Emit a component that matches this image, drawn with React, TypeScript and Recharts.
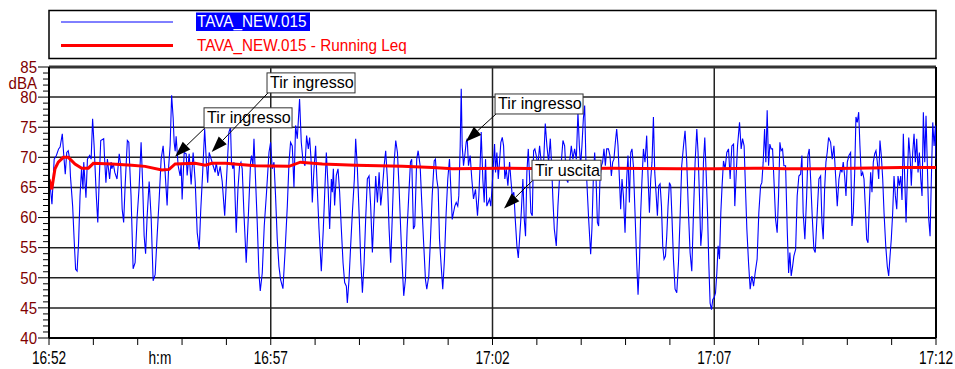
import React from 'react';
import { LineChart, Line, XAxis, YAxis, ReferenceLine } from 'recharts';

// ---------- data ----------
const SERIES_NAMES = ['TAVA_NEW.015', 'TAVA_NEW.015 - Running Leq'];
const X_TICK_LABELS = ['16:52', '16:57', '17:02', '17:07', '17:12'];
const X_LABEL_TIMES = [0, 300, 600, 900, 1200]; // seconds after 16:52
const X_MINUTE_TICKS = [0, 60, 120, 180, 240, 300, 360, 420, 480, 540, 600, 660, 720, 780, 840, 900, 960, 1020, 1080, 1140, 1200];
const X_UNIT_LABEL = 'h:m';
const X_UNIT_TIME = 150;
const Y_UNIT_LABEL = 'dBA';
const Y_MAJOR = [40, 45, 50, 55, 60, 65, 70, 75, 80, 85];
const GRID_Y = [45, 50, 55, 60, 65, 70, 75, 80];
const GRID_X = [300, 600, 900];

// [seconds, dBA]
const laSamples: [number, number][] = [
  [0,66.4],[1,66],[4,62.2],[7,69.7],[10,70.3],[13,71.4],[15,71.7],[18,73.9],[20,70.3],[22,67.2],[24,70.8],[26,71.1],[28,69.7],[29,66.9],[32,61.9],[34,56.4],[36,51.4],[38,51.1],[40,55.8],[42,63.6],[44,68.1],[46,64.7],[47,69.2],[50,63.3],[52,69.7],[55,70.3],[57,69.7],[59,76.4],[61,72],[64,63.6],[66,59.2],[68,66.4],[70,72.8],[74,73.1],[75,70.3],[77,65.8],[79,69.7],[80,68.6],[82,66.4],[84,69.2],[85,68.1],[87,68.9],[89,67.5],[92,66.4],[95,70.6],[97,68.6],[99,61.4],[101,59.2],[103,65.3],[106,72.8],[108,72.5],[109,69.2],[111,63.6],
  [113.8,51.5],[116.5,52.5],[119.2,60],[121.9,65],[124.6,72.5],[126.6,66],[128.7,57],[130.7,54],[132.7,60],[135.5,66],[138.2,60],[140.9,49.5],[143.6,50.5],[146.3,57],[149,63],[151.7,69.7],[154.4,71.9],[157.1,67.5],[159.8,62],[161.9,68.5],[163.9,72],[165.9,80.3],[168,76.5],[169.3,72.5],[170.7,71],[172,73.5],[174.7,68.6],[177.4,66.9],[178.8,69],[180.1,63],[182.9,70.8],[185.6,70.6],[186.9,67],[189.6,70.6],[192.3,65.5],[195,70.8],[197.8,66],[200.5,57.5],[203.2,54.7],[205.2,61],[207.9,67.5],[210.6,74.7],[212.7,69.7],[214.7,65.8],[216.7,70.8],[219.4,69.7],[222.1,68.6],[224.8,67.5],[226.2,69.2],[228.9,66.9],[231.6,68.5],[234.3,66],[237.7,60.3],[239.7,65.3],[243.4,74.2],[245.6,75],[246.9,69.2],[248.8,68.1],[250.2,69.2],[253.3,57.5],[255.6,64.7],[257.8,68.6],[259.7,69.2],[261.4,68.1],[263.7,60.8],[266.8,52.5],[269.5,59.7],[272.7,69.2],[274,70.3],[275.9,68.6],[277.3,73.1],[279.4,66.4],[281.7,59.2],[284,50.8],[285.8,47.8],[288.5,50.8],[291.2,58.6],[294.3,64.2],[297.6,70.8],[299.8,72.5],
  [302,68.1],[304.4,69.2],[306.5,63.6],[308.8,56.4],[311.1,51.9],[313.3,49.7],[316.5,48.2],[319.3,54.2],[322.4,61.9],[324.7,69.2],[326.8,72.5],[329.1,71.9],[331.4,65],[333.6,75.3],[335.9,73.1],[339,79.7],[341.3,72.5],[343.6,69.4],[346.3,68.6],[348.5,73.6],[350.8,71.4],[352.6,73.3],[354.5,69.7],[356.2,62.5],[358.5,68.1],[360.7,71.9],[363,64.7],[365.3,58.1],[368.4,51.1],[371.1,58.1],[373.4,65.3],[375.2,70.8],[377.5,65.3],[379.7,58.1],[382,66.4],[383.3,64.2],[384.7,68.1],[386.4,62],[388.7,67],[391,68.1],[393.2,64.2],[395.5,58.1],[397.8,52.5],[400,49.2],[402.3,48.6],[403.6,45.8],[405.9,49.7],[408.1,55.3],[410.4,60.8],[413.1,66.4],[414.9,73.1],[417.2,68.1],[419.5,60.8],[421.7,53.1],[424,47.5],[426.3,52.5],[428.4,59.7],[430.7,66.4],[433,66.9],[435.2,61.9],[437.5,54.2],[439.8,60.8],[442,66.9],[444.3,62.5],[446.6,67.5],[448.8,62],[451,64.7],[453.4,68.6],[455.5,71.1],[457.8,66.4],[460.1,58.1],[462.3,52.5],[464.6,60.8],[466.9,69.2],[469.1,72.8],[471.4,70.8],[473.7,64.7],[475.8,58],[477.7,52.5],[479.9,47],[482.2,49.7],[484.5,58.1],[486.7,63.6],[489,69.2],[490.7,69.7],[493,58.1],[494.8,58.6],[497.5,69.7],[499.4,71.1],[502.1,68.6],[503.9,63.6],[506.6,56.4],[509.3,49.7],[511.1,48.1],[513.8,50.3],[516.1,56.4],[518.4,63.6],[521.1,69.4],[522.8,69.7],[524.6,66.4],[526.5,64.7],[528.3,56.4],[530.6,51.9],[532.7,48.1],[535,53.1],[537.3,60.8],[539.5,66.4],[541.8,69.7],[544.1,63.6],[545.5,59.7],[547.2,60.8],[549,61.9],[550.9,62.5],[553,61.9],[554.4,63.6],[556.3,71.9],[557.7,81.4],[559,71.9],[560.8,68.6],[562.5,70.3],[564.4,72.5],[565.8,73.1],[567.5,68.6],[569.8,70.3],[572,66.4],[574.3,63.1],[577,64.7],[579.7,60.3],[581.5,63.6],[583.4,69.2],[584.7,74.2],[586.9,66.4],[588.8,62.5],[590.6,69.7],[592.3,61.9],[594.2,62.5],[596,63.1],[597.7,61.9],[599.6,65.3],
  [601.4,69.2],[602.8,72.2],[604.1,67.5],[605.9,70.8],[607.8,66.4],[609.5,69.2],[611.3,72.5],[613.2,73.3],[615,71.9],[616.7,66.4],[618.6,68.1],[620.8,65.3],[623.1,69.2],[624.8,66.4],[626.7,63.6],[628.9,64.2],[630.8,59.7],[633,55.3],[634.9,53.3],[636.6,56.4],[638.9,60.8],[641.1,66.4],[643,59.7],[644.7,56.9],[646.5,67.5],[648.4,71.4],[650.2,66.4],[651.9,60.8],[653.8,60.3],[655.6,71.1],[657.3,71.4],[659.2,70.3],[661.4,68.6],[663.7,71.9],[665.5,69.7],[668.2,66.4],[671.4,75.6],[673.6,71.9],[675.9,69.2],[678.2,73.1],[680,68.6],[681.7,63.1],[683.6,58.1],[686.3,55.3],[688.5,61.9],[690.8,66.9],[693.1,69.2],[695.3,72.8],[697.6,71.9],[699.9,66.4],[702,65.8],[704.3,69.2],[706.6,71.9],[708.8,69.7],[711.1,71.4],[713.4,69.7],[715.6,77.5],[717.5,71.9],[719.2,68.6],[721,71.9],[722.9,76.4],[724.7,78.6],[726.4,69.2],[728.3,64.2],[730.1,59.7],[732.8,53.9],[734.5,58.1],[736.4,66.4],[738.2,70.8],[740,66.9],[741.9,59.2],[743.6,58.6],[745.4,66.4],[747.3,68.6],[749,69.2],[750.8,71.4],[752.7,68.6],[754.5,71.4],[756.8,71.4],[758.9,70.3],[760.8,66.9],[762.6,69.2],[764.3,69.7],[766.2,72.5],[768,74.7],[769.8,71.9],[771.7,66.4],[773.4,61.4],[775.2,66.4],[777.1,63.6],[779.3,57.5],[781.5,66.4],[783.3,70.3],[785.2,62.5],[787,70.8],[788.7,71.4],[790.6,68.6],[792.8,60.8],[795.1,52.5],[796.9,47.2],[798.8,52.5],[800.5,60.8],[802.3,66.4],[804.2,71.4],[806.3,69.2],[808.6,73.6],[810.4,66.9],[812.3,60.8],[814.1,66.4],[815.8,69.2],[817.7,76.7],[819.5,67.5],[821.2,64.2],[823.1,60.3],[824.9,65.3],[826.7,65.6],[828.6,61.9],[830.3,55.3],[832.1,53.1],[834,53.6],[835.7,56.9],[837.5,61.9],[839.4,65.8],[841.1,65.3],[842.9,59.7],[844.8,53.1],[847,48.1],[849.3,47.5],[851.6,52.5],[853.7,59.7],[856,68.6],[858.4,71.9],[860.5,74.4],[862.8,69.2],[865.1,60.8],[867.3,54.2],[869.6,51.1],[871.9,60.8],[874.1,69.2],[876.4,74.7],[878.1,70.8],[880,63.6],[881.8,55.3],[883.5,58.1],[885.4,69.2],[887.2,73.3],[889,67.5],[890.9,60.8],[892.6,52.5],[894.4,45.8],[896.3,44.7],[898,46.4],[899.8,46.7],
  [901.7,47.5],[903.5,50.8],[905.2,55.3],[907.1,53.1],[908.9,60.8],[910.6,65.3],[912.5,69.4],[914.7,68.1],[917,70.8],[919.3,71.4],[921.5,66.4],[923.8,71.9],[926.1,72.2],[927.8,61.9],[929.6,66.9],[931.5,71.9],[934.2,75.8],[936.4,71.4],[938.3,73.1],[940.4,71.9],[942.3,64.7],[944.1,58.1],[946.4,52.5],[948.6,48.1],[950.9,50.3],[953.2,48.6],[955.3,50.8],[958,53.1],[960.3,60.8],[962.7,65.3],[964.4,65.8],[966.2,69.2],[968.1,74.7],[969.8,69.2],[971.6,77.8],[973.5,68.6],[975.2,72.2],[977,71.4],[978.9,71.4],[980.7,66.4],[983,59.7],[985.1,57.5],[987,63.6],[988.8,72.5],[990.5,71.1],[992.4,71.4],[994.2,68.6],[996.5,68.6],[998.7,58.1],[1000.6,50.8],[1002.3,54.2],[1004.1,50.3],[1006,51.9],[1007.7,53.6],[1010.1,54.7],[1012.2,63.6],[1014.5,66.9],[1016.8,67.2],[1018.6,70.3],[1020.3,60.8],[1022.6,56.4],[1025,63.6],[1026.7,70.3],[1028.5,71.4],[1030.4,66.4],[1032.5,60.3],[1034.8,54.7],[1036.6,54.2],[1039.3,60.8],[1041.6,66.4],[1043.9,66.9],[1045.7,59.2],[1047.4,56.4],[1049.3,64.7],[1051.1,69.2],[1052.8,70.8],[1054.7,73.3],[1057.4,72.5],[1059.6,69.7],[1061.9,71.9],[1064.2,66.9],[1066.4,61.9],[1068.7,66.4],[1071,68.1],[1072.8,67.5],[1074.5,69.2],[1076.4,66.9],[1078.2,63.6],[1080,69.2],[1082.2,70.3],[1084.5,70.8],[1086.3,58.6],[1088.1,60.8],[1090,67.5],[1091.7,76.7],[1093.5,75.8],[1095.4,77.5],[1097.1,71.9],[1098.9,66.9],[1100.8,67.5],[1102.6,66.4],[1104.3,61.9],[1106.2,56.4],[1108,55.8],[1109.7,61.9],[1111.6,67.5],[1113.4,64.2],[1115.2,69.2],[1117.1,70.6],[1118.8,71.1],[1120.6,69.2],[1122.5,66.4],[1124.2,72.8],[1126,70.3],[1127.9,66.4],[1129.7,60.8],[1132,55.3],[1134.1,51.9],[1136,50.3],[1137.8,53.6],[1139.5,56.4],[1141.4,60.8],[1143.2,66.9],[1145,63.6],[1146.9,61.4],[1148.6,66.9],[1150.4,65.3],[1152.3,66.9],[1154,62.9],[1155.8,73.9],[1157.7,66.4],[1159.5,59.2],[1161.2,66.4],[1163.1,73.3],[1164.9,70.3],[1166.6,65.3],[1168.5,70.8],[1170.3,73.9],[1172.1,69.2],[1173.9,73.1],[1175.7,67.5],[1177.5,70.8],[1179.4,66.4],[1181.1,63.6],[1182.9,77.5],[1184.8,69.2],[1186.5,76.9],[1188.3,68.6],[1190.2,59.7],[1192,56.9],[1193.7,66.4],[1195.6,75.8],[1197.4,71.9],[1199.2,75.3],[1200,69.7],
];

const leqSamples: [number, number][] = [
  [0,66.4],[3.7,64.7],[8.1,68.1],[12.6,69.2],[19.4,70],[26.1,70],[35.2,68.9],[44.3,68.2],[53.2,68.2],[60,69],[84.9,68.9],[112,68.7],[130,68.5],[152.6,67.9],[162.5,68],[170.7,68.9],[197.8,69],[211.3,68.7],[220.4,69],[238.4,69],[279,68.6],[324.7,68.5],[340,69.2],[369.8,68.9],[414.5,68.7],[478.1,68.5],[518.8,68.3],[545.9,68.1],[610.9,68.2],[678.6,68.1],[759.9,68.2],[849.3,68.1],[903.5,68.1],[953.5,68.2],[998.3,68.1],[1044.3,68.1],[1089,68.2],[1152.7,68.3],[1200,68.3],
];

// annotation: arrow tip (t, v) and label box corner (t, v)
const annotations = [
  { label: 'Tir ingresso', tipT: 170.5, tipV: 70.1, boxT: 211.1, boxV: 74.9 },
  { label: 'Tir ingresso', tipT: 220.1, tipV: 70.9, boxT: 296.3, boxV: 80.7 },
  { label: 'Tir ingresso', tipT: 563.8, tipV: 72.6, boxT: 604.8, boxV: 77.2 },
  { label: 'Tir uscita', tipT: 615.6, tipV: 61.5, boxT: 654.8, boxV: 66.2 },
];

// ---------- styling ----------
const FONT = 'Liberation Sans, Arial, Helvetica, sans-serif';
const W = 955;
const H = 369;
const BOX_W: Record<string, number> = { 'Tir ingresso': 88, 'Tir uscita': 69 };

const laData = laSamples.map(([t, v]) => ({ t, v }));
const leqData = leqSamples.map(([t, v]) => ({ t, v }));
const xTicks = [...X_MINUTE_TICKS, X_UNIT_TIME].sort((a, b) => a - b);
const yTicks: number[] = [];
for (let v = 40; v <= 85; v += 1) yTicks.push(v);

const XTick = (props: any) => {
  const { x, y, payload } = props;
  const v = payload.value;
  const li = X_LABEL_TIMES.indexOf(v);
  const label = li >= 0 ? X_TICK_LABELS[li] : v === X_UNIT_TIME ? X_UNIT_LABEL : null;
  const isMinute = X_MINUTE_TICKS.indexOf(v) >= 0;
  return (
    <g>
      {isMinute && <line x1={x} x2={x} y1={y} y2={y + 7} stroke="#000" strokeWidth={1} />}
      {label && (
        <text transform={`translate(${x},${y + 25.5}) scale(0.72,1)`} textAnchor="middle" fontSize={19} fontFamily={FONT} fill="#000">
          {label}
        </text>
      )}
    </g>
  );
};

const YTick = (props: any) => {
  const { x, y, payload } = props;
  const v = payload.value;
  const major = Y_MAJOR.indexOf(v) >= 0;
  return (
    <g>
      <line x1={x - (major ? 11 : 6)} x2={x} y1={y} y2={y} stroke="#000" strokeWidth={1} />
      {major && (
        <text transform={`translate(${x - 12},${y + 5.8}) scale(0.94,1)`} textAnchor="end" fontSize={16} fontFamily={FONT} fill="#800000">
          {v}
        </text>
      )}
    </g>
  );
};

const renderYUnit = (props: any) => {
  const vb = props && props.viewBox && typeof props.viewBox.x === 'number' ? props.viewBox : { x: 0, y: 67, width: 49 };
  return (
    <text transform={`translate(${vb.x + vb.width - 12},${vb.y + 21.5}) scale(0.94,1)`} textAnchor="end" fontSize={16} fontFamily={FONT} fill="#800000">
      {Y_UNIT_LABEL}
    </text>
  );
};

const makeAnnotationShape = (label: string) => (props: any) => {
  const { x1, y1, x2, y2 } = props;
  if ([x1, y1, x2, y2].some((n) => typeof n !== 'number' || isNaN(n))) return <g />;
  const dx = x2 - x1;
  const dy = y2 - y1;
  const len = Math.sqrt(dx * dx + dy * dy) || 1;
  const ux = dx / len;
  const uy = dy / len;
  const L = 16;
  const Wd = 5.5;
  const bx = x2 - ux * L;
  const by = y2 - uy * L;
  const pts = `${x2},${y2} ${bx - uy * Wd},${by + ux * Wd} ${bx + uy * Wd},${by - ux * Wd}`;
  const bw = BOX_W[label] || 88;
  return (
    <g>
      <line x1={x1} y1={y1} x2={bx} y2={by} stroke="#000" strokeWidth={1} />
      <polygon points={pts} fill="#000" />
      <rect x={x1 - 1} y={y1 - 20} width={bw} height={20} fill="#fff" stroke="#333" strokeWidth={1} />
      <text transform={`translate(${x1 + 2},${y1 - 4.5}) scale(0.95,1)`} fontSize={17} fontFamily={FONT} fill="#000">
        {label}
      </text>
    </g>
  );
};

const LegendBox = () => (
  <svg width={W} height={64} style={{ position: 'absolute', left: 0, top: 0 }}>
    <rect x={49} y={10.5} width={887} height={48} fill="#fff" stroke="#000" strokeWidth={1.5} />
    <line x1={61} x2={173} y1={22} y2={22} stroke="#0000ff" strokeWidth={1} />
    <rect x={196} y={12.5} width={114} height={18.5} fill="#0000ff" />
    <text transform="translate(197,27) scale(0.9,1)" fontSize={17} fontFamily={FONT} fill="#fff">
      {SERIES_NAMES[0]}
    </text>
    <line x1={61} x2={173} y1={45.5} y2={45.5} stroke="#ff0000" strokeWidth={3} />
    <text transform="translate(197,50.5) scale(0.9,1)" fontSize={17} fontFamily={FONT} fill="#ff0000">
      {SERIES_NAMES[1]}
    </text>
  </svg>
);

export default function App() {
  return (
    <div style={{ position: 'absolute', left: 0, top: 0, width: W, height: H, background: '#fff', overflow: 'hidden' }}>
      <LineChart width={W} height={H} margin={{ top: 67, right: 19, bottom: 0, left: 0 }}>
        {GRID_Y.map((v) => (
          <ReferenceLine key={`gy${v}`} y={v} stroke="#222" strokeWidth={1.5} zIndex={-100} />
        ))}
        {GRID_X.map((t) => (
          <ReferenceLine key={`gx${t}`} x={t} stroke="#222" strokeWidth={1.5} zIndex={-100} />
        ))}
        <XAxis
          dataKey="t"
          type="number"
          domain={[0, 1200]}
          ticks={xTicks}
          interval={0}
          tick={(p: any) => <XTick {...p} />}
          tickLine={false}
          tickSize={0}
          tickMargin={0}
          height={31}
          axisLine={{ stroke: '#000', strokeWidth: 2 }}
          allowDataOverflow
        />
        <YAxis
          type="number"
          domain={[40, 85]}
          ticks={yTicks}
          interval={0}
          width={49}
          tick={(p: any) => <YTick {...p} />}
          tickLine={false}
          tickSize={0}
          tickMargin={0}
          axisLine={{ stroke: '#000', strokeWidth: 2 }}
          label={renderYUnit}
          allowDataOverflow
        />
        <ReferenceLine y={85} stroke="#333" strokeWidth={3} />
        <ReferenceLine x={1200} stroke="#000" strokeWidth={2} />
        <Line data={laData} dataKey="v" type="linear" stroke="#0000ff" strokeWidth={1.1} dot={false} activeDot={false} isAnimationActive={false} />
        <Line data={leqData} dataKey="v" type="linear" stroke="#ff0000" strokeWidth={3} dot={false} activeDot={false} isAnimationActive={false} />
        {annotations.map((a, i) => (
          <ReferenceLine
            key={i}
            segment={[{ x: a.boxT, y: a.boxV }, { x: a.tipT, y: a.tipV }]}
            ifOverflow="visible"
            zIndex={2000}
            shape={makeAnnotationShape(a.label)}
          />
        ))}
      </LineChart>
      <LegendBox />
    </div>
  );
}
